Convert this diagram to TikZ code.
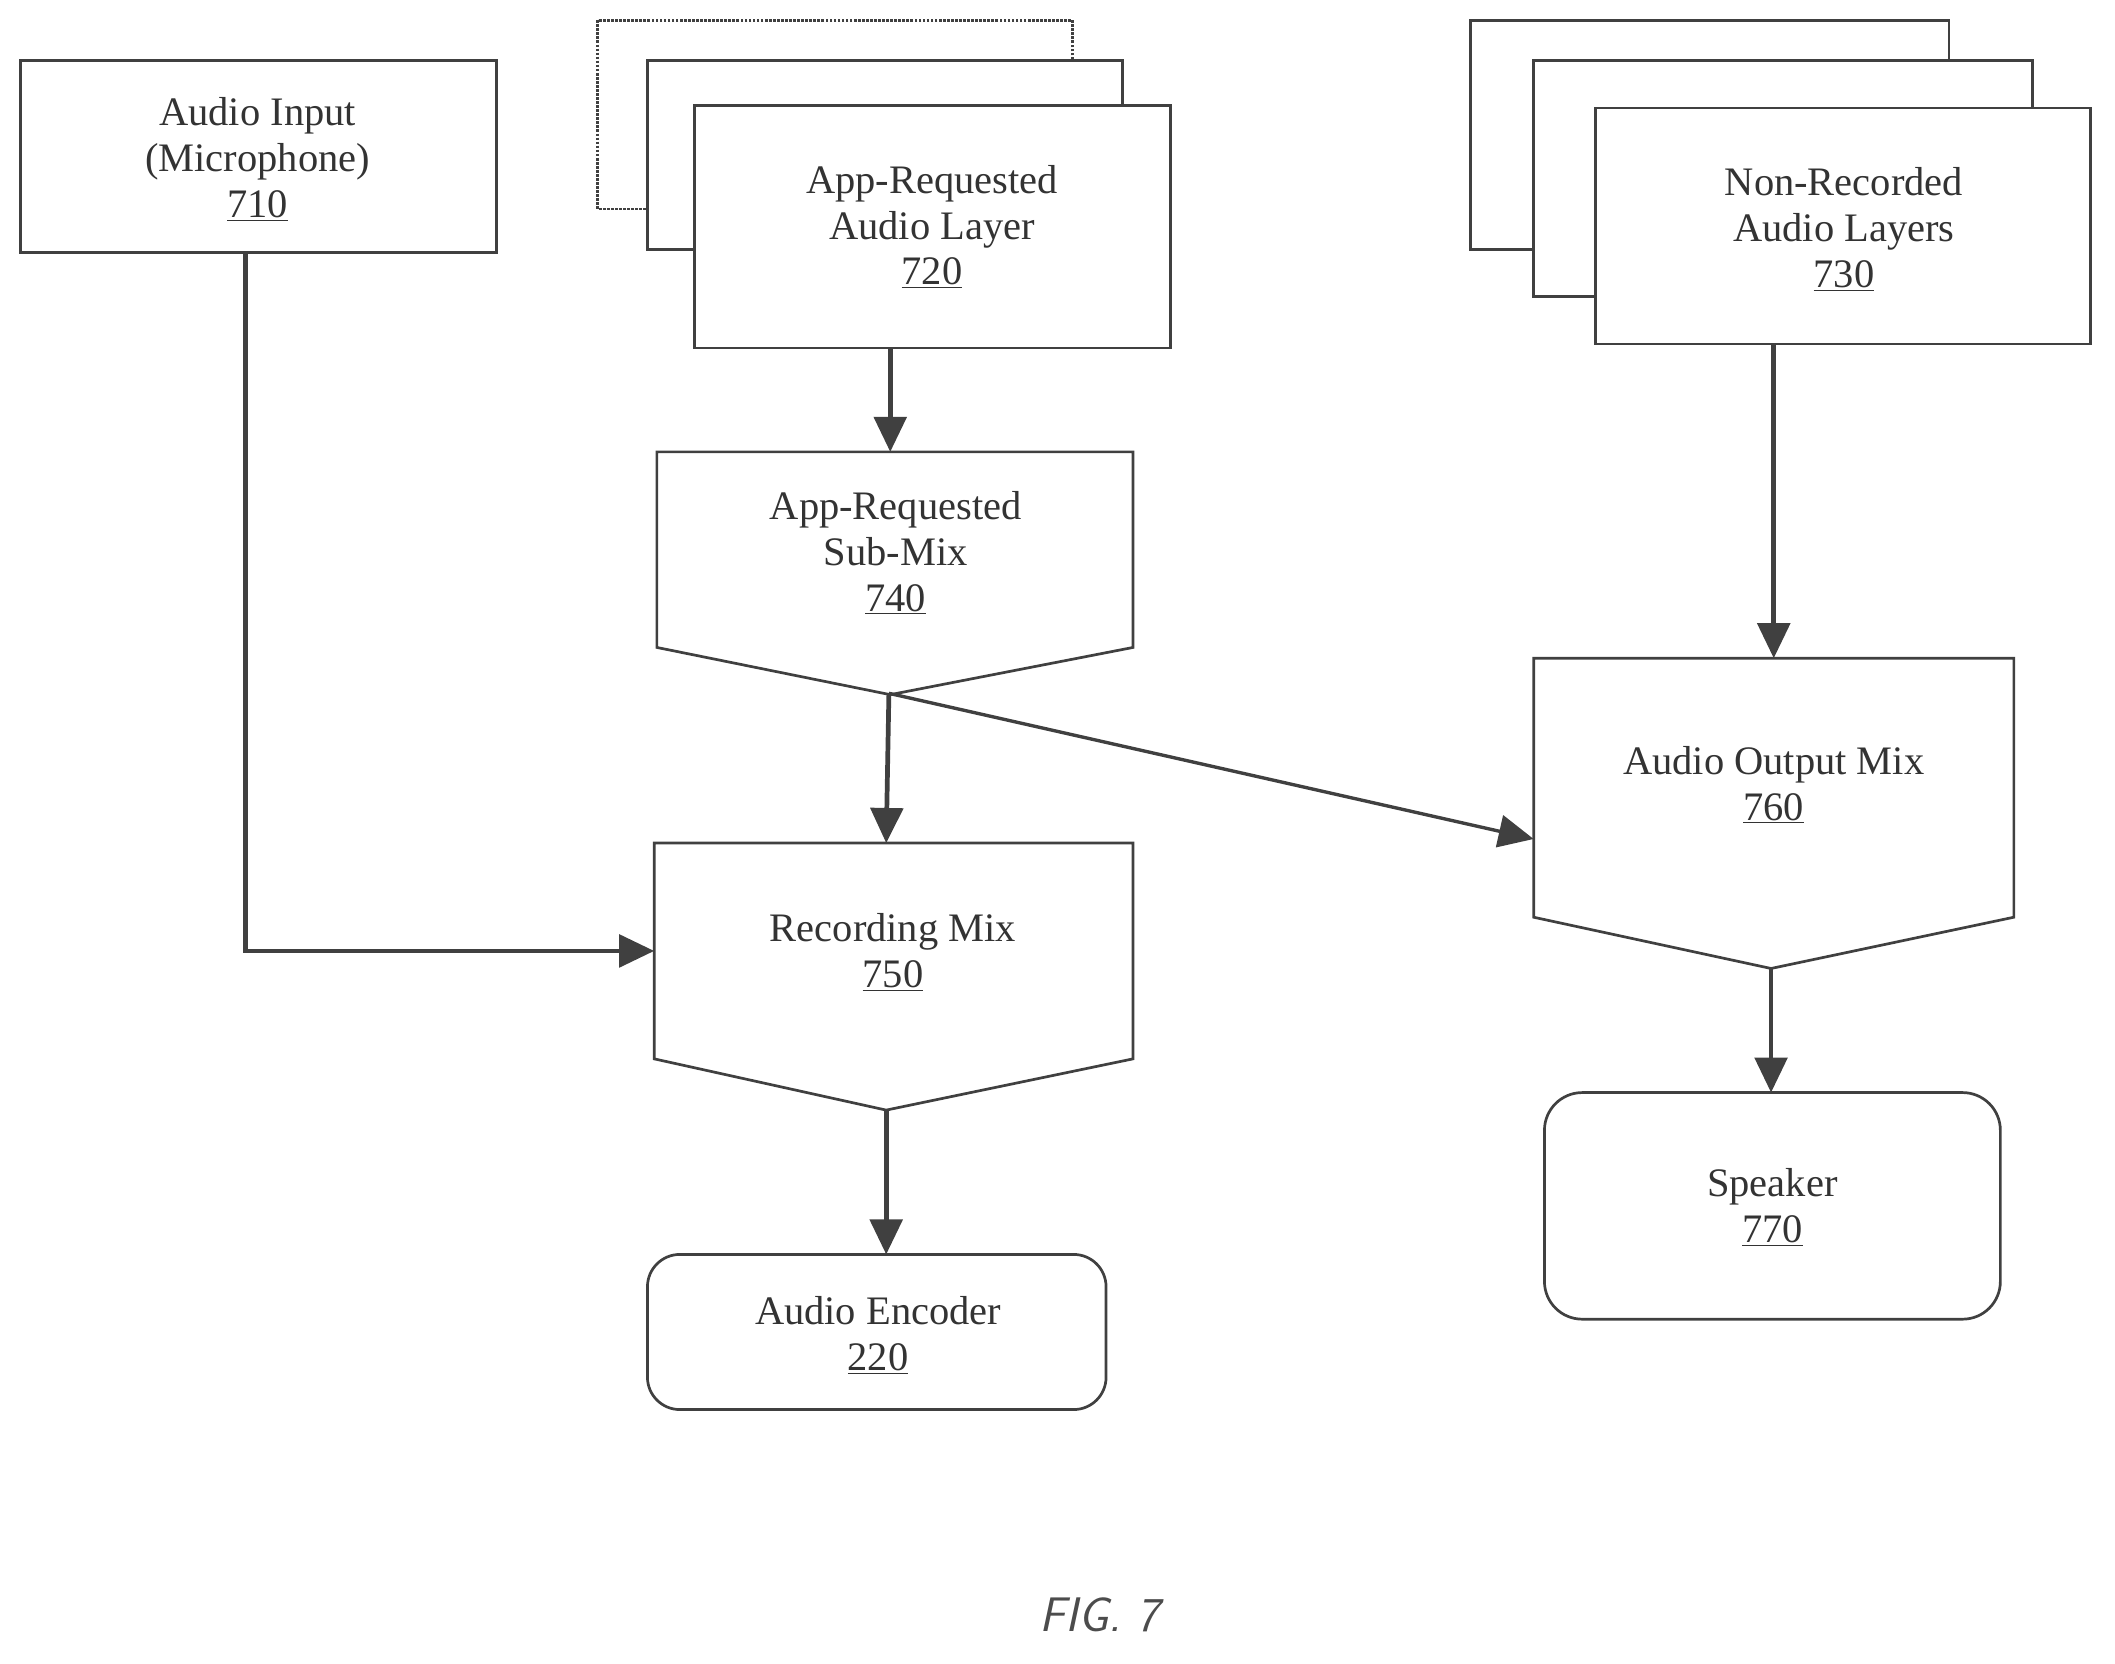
\documentclass[tikz,border=0pt]{standalone}
\usepackage{fontspec}
\setmainfont{Liberation Serif}
\usetikzlibrary{arrows.meta}
\begin{document}
\begin{tikzpicture}[x=1pt,y=-1pt,
  box/.style={draw=black!75,line width=2pt,fill=white},
  lbl/.style={font=\fontsize{30}{34}\selectfont,text=black!80,align=center},
  arr/.style={draw=black!75,line width=3.5pt,-{Triangle[length=26pt,width=24pt]}}]
\useasboundingbox (0,0) rectangle (1568,1233);
% 710
\draw[box] (15,45) rectangle (368,187);
\node[lbl] (t710) at (191,118) {Audio Input\\(Microphone)\\\underline{710}};
% 720 stack
\draw[box,densely dotted] (443,15) rectangle (795,155);
\draw[box] (480,45) rectangle (832,185);
\draw[box] (515,78) rectangle (868,258);
\node[lbl] (t720) at (691,168) {App-Requested\\Audio Layer\\\underline{720}};
% 730 stack
\draw[box] (1090,15) rectangle (1445,185);
\draw[box] (1137,45) rectangle (1507,220);
\draw[box] (1183,80) rectangle (1550,255);
\node[lbl] (t730) at (1367,170) {Non-Recorded\\Audio Layers\\\underline{730}};
% 740
\draw[box] (487,335) -- (840,335) -- (840,480) -- (660,515) -- (487,480) -- cycle;
\node[lbl] (t740) at (664,410) {App-Requested\\Sub-Mix\\\underline{740}};
% 750
\draw[box] (485,625) -- (840,625) -- (840,785) -- (657,823) -- (485,785) -- cycle;
\node[lbl] (t750) at (662,706) {Recording Mix\\\underline{750}};
% 760
\draw[box] (1137,488) -- (1493,488) -- (1493,680) -- (1313,718) -- (1137,680) -- cycle;
\node[lbl] (t760) at (1315,582) {Audio Output Mix\\\underline{760}};
% 770
\draw[box,rounded corners=28pt] (1145,810) rectangle (1483,978);
\node[lbl] (t770) at (1314,895) {Speaker\\\underline{770}};
% 220
\draw[box,rounded corners=24pt] (480,930) rectangle (820,1045);
\node[lbl] (t220) at (651,990) {Audio Encoder\\\underline{220}};
\node[font=\sffamily\itshape\fontsize{36}{40}\selectfont,text=black!70] (fig) at (815,1197) {FIG. 7};
% coordinates
\coordinate (b710) at (182,187);
\coordinate (l750) at (485,705);
\coordinate (b720) at (660,258);
\coordinate (t740c) at (660,335);
\coordinate (b730) at (1315,255);
\coordinate (t760c) at (1315,488);
\coordinate (p740) at (659,514);
\coordinate (t750c) at (657,625);
\coordinate (l760) at (1137,622);
\coordinate (p750) at (657,823);
\coordinate (t220c) at (657,930);
\coordinate (p760) at (1313,718);
\coordinate (t770c) at (1313,810);
\draw[arr] (b710) |- (l750);
\draw[arr] (b720) -- (t740c);
\draw[arr] (b730) -- (t760c);
\draw[arr] (p740) -- (t750c);
\draw[arr,line width=2.5pt] (p740) -- (l760);
\draw[arr] (p750) -- (t220c);
\draw[arr] (p760) -- (t770c);
\end{tikzpicture}
\end{document}
